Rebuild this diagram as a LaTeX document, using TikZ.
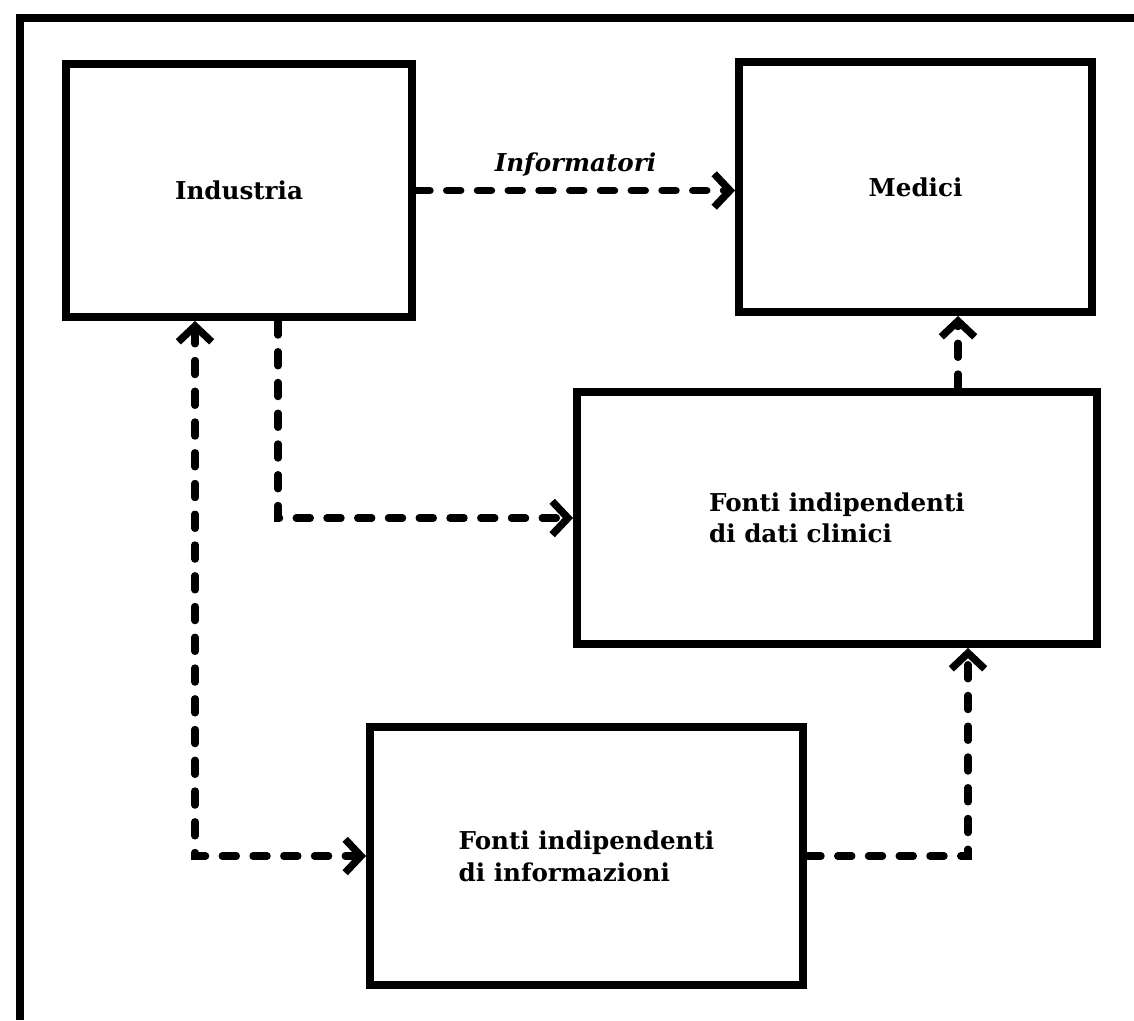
\documentclass[tikz,border=0pt]{standalone}
\usepackage{fontspec}
\setmainfont{DejaVu Serif}
\usetikzlibrary{arrows.meta}

\begin{document}
\begin{tikzpicture}[
    box/.style={draw, line width=4.5pt, inner sep=0pt, align=left,
      font=\fontsize{14}{18}\selectfont\bfseries},
    flow/.style={line width=4.2pt, dash pattern=on 8pt off 9.5pt, line cap=round,
      -{Straight Barb[length=9pt,width=19pt]}},
    both/.style={flow, {Straight Barb[length=9pt,width=19pt]}-{Straight Barb[length=9pt,width=19pt]}}
  ]
  \useasboundingbox (0,0) rectangle (22.68,-20.4);
  % frame
  \draw[line width=4.5pt] (0.4,-20.4) -- (0.4,-0.36) -- (22.68,-0.36);

  \node[box, minimum width=6.92cm, minimum height=5.06cm] (ind) at (4.78,-3.81) {Industria};
  \node[box, minimum width=7.06cm, minimum height=5cm] (med) at (18.31,-3.74) {Medici};
  \node[box, minimum width=10.4cm, minimum height=5.04cm] (dati) at (16.74,-10.36)
    {Fonti indipendenti\\di dati clinici};
  \node[box, minimum width=8.66cm, minimum height=5.16cm] (info) at (11.73,-17.12)
    {Fonti indipendenti\\di informazioni};

  \draw[flow] (ind.east) -- (ind.east -| med.west)
    node[midway, above=0.22cm, inner sep=0pt, font=\fontsize{14}{18}\selectfont\bfseries\itshape] (inf) {Informatori};
  \draw[flow] ([xshift=0.78cm]ind.south) |- (dati.west);
  \draw[both] ([xshift=-0.88cm]ind.south) |- (info.west);
  \draw[flow] (info.east) -| ([xshift=2.62cm]dati.south);
  \draw[flow] ([xshift=2.42cm]dati.north) -- ([xshift=2.42cm]dati.north |- med.south);
\end{tikzpicture}
\end{document}
